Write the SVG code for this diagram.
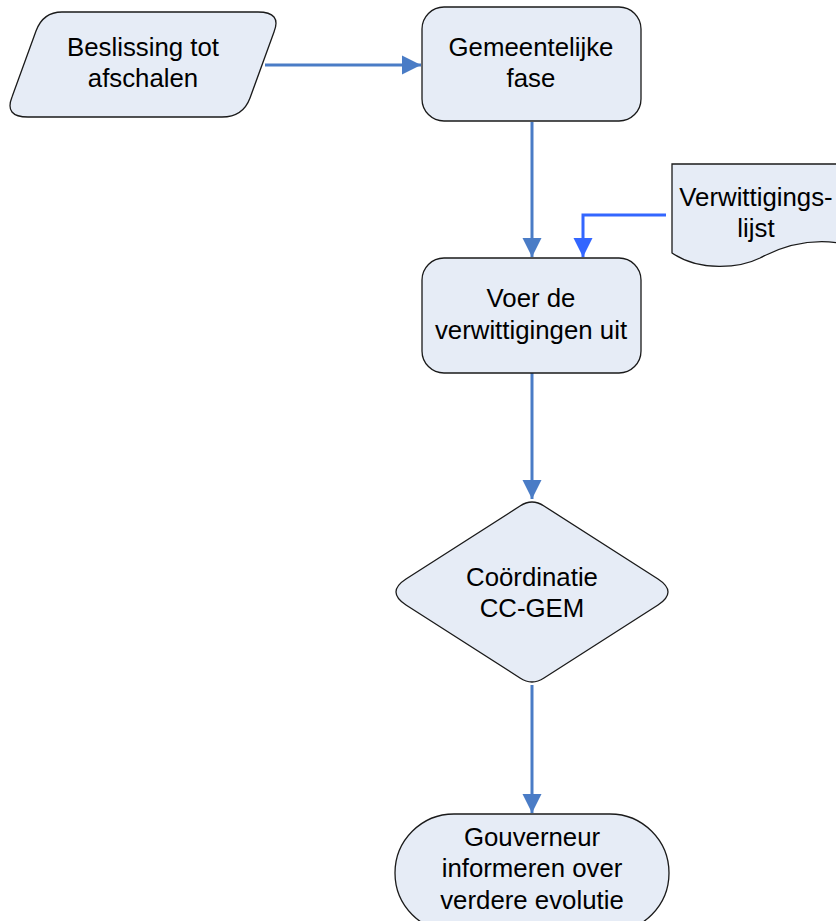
<svg xmlns="http://www.w3.org/2000/svg" width="836" height="921" viewBox="0 0 836 921">
<defs>
<style>
.shape{fill:#E6ECF6;stroke:#1a1a1a;stroke-width:1.3}
.lbl{font-family:"Liberation Sans",Arial,sans-serif;font-size:25.8px;fill:#000;text-anchor:middle}
.conn{fill:none;stroke:#4A7CC6;stroke-width:3}
.conn2{fill:none;stroke:#3366FF;stroke-width:3}
</style>
<marker id="ah" viewBox="0 0 10 10" refX="10" refY="5" markerWidth="6.5" markerHeight="6.5" markerUnits="strokeWidth" orient="auto">
<path d="M0,0 L10,5 L0,10 z" fill="#4A7CC6"/>
</marker>
<marker id="ah2" viewBox="0 0 10 10" refX="10" refY="5" markerWidth="6.5" markerHeight="6.5" markerUnits="strokeWidth" orient="auto">
<path d="M0,0 L10,5 L0,10 z" fill="#3366FF"/>
</marker>
</defs>
<rect width="836" height="921" fill="#fff"/>
<g id="connectors">
<path class="conn" d="M265,65 H421" marker-end="url(#ah)"/>
<path class="conn" d="M532,122 V257" marker-end="url(#ah)"/>
<path class="conn2" d="M666,215 H583 V257" marker-end="url(#ah2)"/>
<path class="conn" d="M532,373 V499" marker-end="url(#ah)"/>
<path class="conn" d="M532,685 V813" marker-end="url(#ah)"/>
</g>
<g id="n1">
<path class="shape" d="M62,12 H258 Q282,12 274,32 L250,98 Q243,117 222,117 H28 Q4,117 12,97 L36,31 Q43,12 62,12 Z"/>
<text class="lbl" x="143" y="56">Beslissing tot</text>
<text class="lbl" x="143" y="87">afschalen</text>
</g>
<g id="n2">
<rect class="shape" x="422" y="7" width="219" height="114" rx="22"/>
<text class="lbl" x="531" y="56">Gemeentelijke</text>
<text class="lbl" x="531" y="87">fase</text>
</g>
<g id="n3">
<path class="shape" d="M672,164 H850 V245 C820,238 790,242 760,258 C740,268 700,272 672,253 Z"/>
<text class="lbl" x="756" y="206">Verwittigings-</text>
<text class="lbl" x="756" y="237">lijst</text>
</g>
<g id="n4">
<rect class="shape" x="422" y="258" width="219" height="115" rx="22"/>
<text class="lbl" x="531" y="307">Voer de</text>
<text class="lbl" x="531" y="339">verwittigingen uit</text>
</g>
<g id="n5">
<path class="shape" d="M520,506 Q532,498 544,506 L658,579 Q678,592 658,605 L544,678 Q532,686 520,678 L406,605 Q386,592 406,579 Z"/>
<text class="lbl" x="532" y="586">Coördinatie</text>
<text class="lbl" x="532" y="617">CC-GEM</text>
</g>
<g id="n6">
<rect class="shape" x="395" y="814" width="274" height="118" rx="59"/>
<text class="lbl" x="532" y="846">Gouverneur</text>
<text class="lbl" x="532" y="877">informeren over</text>
<text class="lbl" x="532" y="909">verdere evolutie</text>
</g>
</svg>
